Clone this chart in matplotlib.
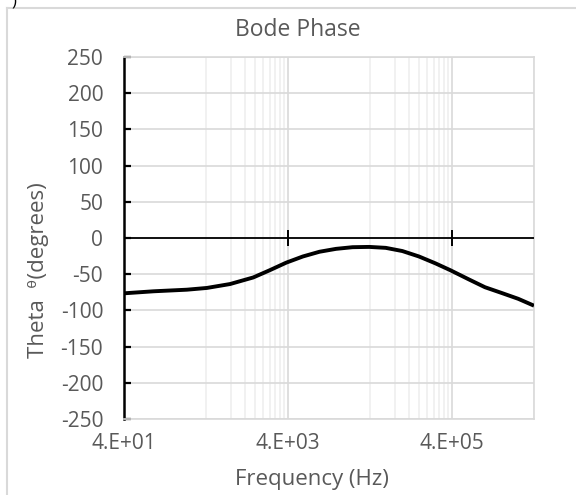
import numpy as np
import matplotlib
matplotlib.use("Agg")
import matplotlib.pyplot as plt
from matplotlib.lines import Line2D

plt.rcParams["font.family"] = ["Open Sans", "DejaVu Sans"]
plt.rcParams["axes.unicode_minus"] = False

# phase response (Hz, degrees)
freq_hz = [40, 92, 234, 409, 785, 1507, 2397, 3815, 6080, 9680, 15400,
           24500, 39100, 62200, 99100, 158000, 251000, 382000, 637000,
           1.01e6, 1.62e6, 2.57e6, 4.0e6]
phase_deg = [-76.4, -73.6, -71.4, -69, -63.6, -54.5, -44.5, -34, -25.5, -19,
             -15, -12.7, -12.3, -13.6, -18, -25.5, -35, -44.5, -57, -68,
             -76, -84, -93.5]

x_major = [4e1, 4e3, 4e5]
x_labels = ["4.E+01", "4.E+03", "4.E+05"]
y_ticks = list(range(-250, 251, 50))

C_TXT = "#595959"
C_GRID = "#d9d9d9"
C_MINOR = "#efefef"

fig = plt.figure(figsize=(5.76, 4.95), dpi=100)
ax = fig.add_axes([124/576, 1-419/495, 410/576, 362/495])

# Excel-style log axis (base 100) with minor lines every 10x of the start value
x_minor = np.concatenate([4e2*np.arange(1, 10), 4e4*np.arange(1, 10), [4e6]])
ax.set_xscale("log")
ax.set_xlim(40, 4e6)
ax.set_ylim(-250, 250)
ax.set_xticks(x_major)
ax.set_xticklabels(x_labels)
ax.set_xticks(x_minor, minor=True)
ax.xaxis.set_minor_formatter(matplotlib.ticker.NullFormatter())
ax.set_yticks(y_ticks)

ax.grid(which="minor", axis="x", color=C_MINOR, lw=1.2, zorder=0)
ax.grid(which="major", axis="x", color=C_GRID, lw=1.2, zorder=0)
ax.grid(which="major", axis="y", color=C_GRID, lw=1.2, zorder=0)
ax.set_axisbelow(True)

ax.tick_params(axis="x", which="both", length=0, pad=10, labelsize=15,
               labelcolor=C_TXT)
ax.tick_params(axis="y", direction="in", length=5, width=1.6, pad=15,
               labelsize=15, labelcolor=C_TXT, color="black")

for s in ("top", "bottom", "right"):
    ax.spines[s].set_color(C_GRID)
    ax.spines[s].set_linewidth(1.2)
ax.spines["left"].set_color("black")
ax.spines["left"].set_linewidth(1.8)

# horizontal axis crossing at zero, with cross ticks at the major values
ax.axhline(0, color="black", lw=1.3, zorder=3)
ax.plot(x_major, [0]*len(x_major), ls="none", marker="|", ms=12, mew=1.4,
        color="black", zorder=3)

ax.plot(freq_hz, phase_deg, color="black", lw=2.8, zorder=4,
        solid_capstyle="butt", solid_joinstyle="round")

fig.text(298/576, 1-30/495, "Bode Phase", ha="center", va="center",
         fontsize=16.5, color=C_TXT)
fig.text(312/576, 1-479/495, "Frequency (Hz)", ha="center", va="center",
         fontsize=16, color=C_TXT)
fig.text(39/576, 1-270/495, "Theta  \u1dbf(degrees)", ha="center", va="center",
         rotation=90, fontsize=16, color=C_TXT)

# chart-area border (only left and top edges are in frame)
fig.add_artist(Line2D([7/576, 7/576], [0, 1-8/495], color=C_GRID, lw=1.5))
fig.add_artist(Line2D([7/576, 1], [1-8/495, 1-8/495], color=C_GRID, lw=1.5))
fig.text(14/576, 1-1/495, ")", ha="center", va="center", fontsize=12,
         color="black")

fig.savefig("out.png", dpi=100)
